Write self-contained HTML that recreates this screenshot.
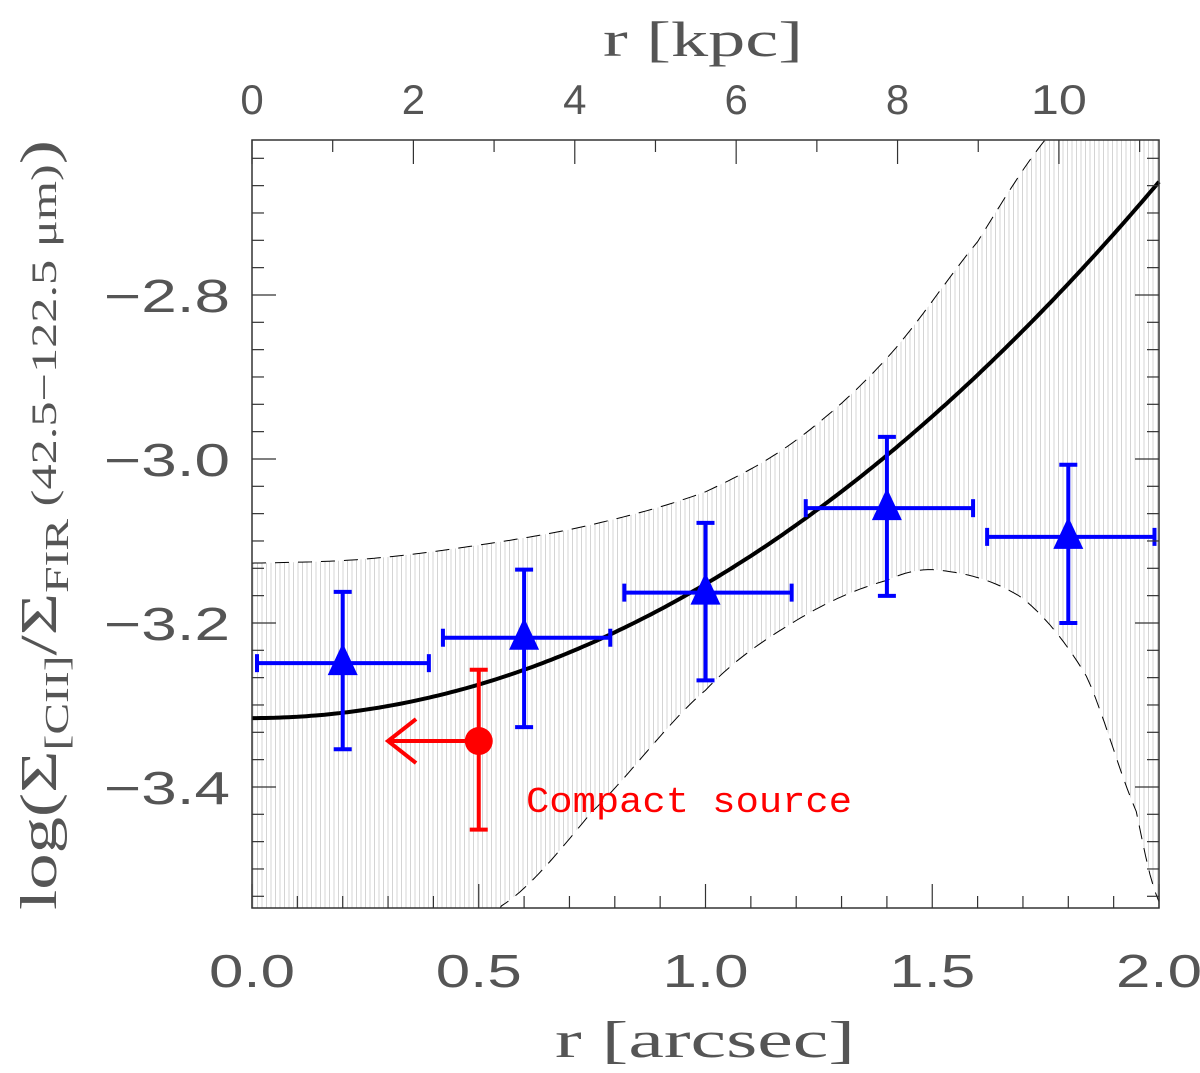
<!DOCTYPE html>
<html><head><meta charset="utf-8"><style>
html,body{margin:0;padding:0;background:#fff;}
svg{display:block;}
text{font-family:"Liberation Sans",sans-serif;fill:#555;}
</style></head><body>
<svg id="chart" width="1200" height="1073" viewBox="0 0 1200 1073" xmlns="http://www.w3.org/2000/svg">
<defs>
<pattern id="stripes" patternUnits="userSpaceOnUse" width="4.5" height="10">
<line x1="1" y1="0" x2="1" y2="10" stroke="#d4d4d4" stroke-width="1"/>
</pattern>
<clipPath id="plotclip"><rect x="252" y="140" width="907" height="768"/></clipPath>
</defs>
<g id="band" clip-path="url(#plotclip)"></g>
<g id="marks"></g>
<g id="axes"></g>
</svg>
<script>
const bandUpperR = [0, 0.25, 0.5, 0.75, 1.0, 1.2, 1.4, 1.6, 1.75, 1.85, 2.0];
const bandUpperV = [-3.127, -3.122, -3.105, -3.08, -3.04, -2.977, -2.877, -2.735, -2.61, -2.53, -2.40];
const bandLowerR = [0, 0.3, 0.5, 0.55, 0.75, 1.0, 1.2, 1.4, 1.52, 1.7, 1.84, 1.95, 2.0];
const bandLowerV = [-3.75, -3.66, -3.57, -3.545, -3.43, -3.282, -3.197, -3.148, -3.136, -3.17, -3.265, -3.43, -3.54];
const fitA = -3.316;
const fitB = 0.1635;
const pointsR = [0.2, 0.6, 1.0, 1.4, 1.8];
const pointsV = [-3.249, -3.218, -3.163, -3.06, -3.095];
const pointsErrHi = [-3.162, -3.135, -3.078, -2.973, -3.007];
const pointsErrLo = [-3.354, -3.327, -3.27, -3.167, -3.20];
const pointsXLo = [0.0, 0.41, 0.81, 1.21, 1.61];
const pointsXHi = [0.39, 0.79, 1.19, 1.59, 1.99];
const compactR = [0.5];
const compactV = [-3.344];
const compactErrHi = [-3.257];
const compactErrLo = [-3.452];
const compactArrowTo = [0.3];
const xTicks = [0.0, 0.5, 1.0, 1.5, 2.0];
const xTickLabels = ["0.0", "0.5", "1.0", "1.5", "2.0"];
const kpcTicks = [0, 2, 4, 6, 8, 10];
const kpcTickLabels = ["0", "2", "4", "6", "8", "10"];
const yTicks = [-2.8, -3.0, -3.2, -3.4];
const yTickLabels = ["\u22122.8", "\u22123.0", "\u22123.2", "\u22123.4"];

const L = 252, R = 1159, T = 140, B = 908;
const xMin = 0, xMax = 2.0, yTop = -2.6110, yBot = -3.5476;
const kpcPerArcsec = 5.62;
function X(r) { return L + (r - xMin) / (xMax - xMin) * (R - L); }
function Y(v) { return T + (yTop - v) / (yTop - yBot) * (B - T); }
function XK(k) { return X(k / kpcPerArcsec); }
const NS = "http://www.w3.org/2000/svg";
function mk(tag, attrs, parent) {
  const e = document.createElementNS(NS, tag);
  for (const k in attrs) e.setAttribute(k, attrs[k]);
  parent.appendChild(e);
  return e;
}
function interp(rs, vs, r) {
  for (let i = 0; i < rs.length - 1; i++) {
    if (r >= rs[i] && r <= rs[i + 1]) {
      const t = (r - rs[i]) / (rs[i + 1] - rs[i]);
      const p0 = vs[Math.max(i - 1, 0)], p1 = vs[i], p2 = vs[i + 1], p3 = vs[Math.min(i + 2, vs.length - 1)];
      return 0.5 * ((2 * p1) + (-p0 + p2) * t + (2 * p0 - 5 * p1 + 4 * p2 - p3) * t * t + (-p0 + 3 * p1 - 3 * p2 + p3) * t * t * t);
    }
  }
  return vs[vs.length - 1];
}
const band = document.getElementById('band');
const marks = document.getElementById('marks');
const axes = document.getElementById('axes');

let up = [], lo = [];
for (let i = 0; i <= 200; i++) {
  const r = i / 100;
  up.push(X(r).toFixed(1) + ',' + Y(interp(bandUpperR, bandUpperV, r)).toFixed(1));
  lo.push(X(r).toFixed(1) + ',' + Y(interp(bandLowerR, bandLowerV, r)).toFixed(1));
}
const fill = mk('polygon', { points: up.concat(lo.slice().reverse()).join(' '), fill: 'url(#stripes)', stroke: 'none' }, band);


const upL = mk('polyline', { points: up.join(' '), fill: 'none', stroke: '#000', 'stroke-width': 1, 'stroke-dasharray': '14,9' }, band);


const loL = mk('polyline', { points: lo.join(' '), fill: 'none', stroke: '#000', 'stroke-width': 1, 'stroke-dasharray': '14,9' }, band);



let fp = [];
for (let i = 0; i <= 200; i++) { const r = i / 100; fp.push(X(r).toFixed(1) + ',' + Y(fitA + fitB * r * r).toFixed(1)); }
const fit = mk('polyline', { points: fp.join(' '), fill: 'none', stroke: '#000', 'stroke-width': 4 }, marks);



pointsR.forEach((r, i) => {
  const g = mk('g', { stroke: '#0000ff', 'stroke-width': 4, fill: '#0000ff' }, marks);
  
  
  const x = X(r), y = Y(pointsV[i]), yh = Y(pointsErrHi[i]), yl = Y(pointsErrLo[i]);
  const x0 = X(pointsXLo[i]) + 5, x1 = X(pointsXHi[i]);
  mk('line', { x1: x, y1: yh, x2: x, y2: yl }, g);
  mk('line', { x1: x - 9, y1: yh, x2: x + 9, y2: yh }, g);
  mk('line', { x1: x - 9, y1: yl, x2: x + 9, y2: yl }, g);
  mk('line', { x1: x0, y1: y, x2: x1, y2: y }, g);
  mk('line', { x1: x0, y1: y - 9, x2: x0, y2: y + 9 }, g);
  mk('line', { x1: x1, y1: y - 9, x2: x1, y2: y + 9 }, g);
  mk('polygon', { points: `${x},${y - 20} ${x - 15},${y + 12} ${x + 15},${y + 12}`, stroke: 'none' }, g);
});

compactR.forEach((r, i) => {
  const g = mk('g', { stroke: '#ff0000', 'stroke-width': 4, fill: '#ff0000' }, marks);
  
  
  const x = X(r), y = Y(compactV[i]), yh = Y(compactErrHi[i]), yl = Y(compactErrLo[i]), xa = X(compactArrowTo[i]);
  mk('line', { x1: x, y1: yh, x2: x, y2: yl }, g);
  mk('line', { x1: x - 9, y1: yh, x2: x + 9, y2: yh }, g);
  mk('line', { x1: x - 9, y1: yl, x2: x + 9, y2: yl }, g);
  mk('line', { x1: x, y1: y, x2: xa, y2: y }, g);
  mk('polyline', { points: `${xa + 28},${y - 22} ${xa},${y} ${xa + 28},${y + 22}`, fill: 'none' }, g);
  mk('circle', { cx: x, cy: y, r: 14, stroke: 'none' }, g);
});
const cs = mk('text', { x: 526, y: 812, 'font-size': 36, textLength: 326, lengthAdjust: 'spacingAndGlyphs', style: 'fill:#ff0000;font-family:"Liberation Mono",monospace' }, marks);
cs.textContent = 'Compact source';



const fr = mk('rect', { x: L, y: T, width: R - L, height: B - T, fill: 'none', stroke: '#333', 'stroke-width': 1.5 }, axes);


for (let i = 0; i <= 20; i++) {
  const r = i / 10, x = X(r), len = (i % 5 === 0) ? 24 : 12;
  mk('line', { x1: x, y1: B, x2: x, y2: B - len, stroke: '#333', 'stroke-width': 1.2 }, axes);
}
xTicks.forEach((r, i) => {
  const t = mk('text', { x: X(r), y: 987, 'font-size': 46, 'text-anchor': 'middle', textLength: 86, lengthAdjust: 'spacingAndGlyphs' }, axes);
  t.textContent = xTickLabels[i];
  
  
});
for (let k = 0; k <= 11; k++) {
  const x = XK(k), len = (k % 2 === 0) ? 24 : 12;
  mk('line', { x1: x, y1: T, x2: x, y2: T + len, stroke: '#333', 'stroke-width': 1.2 }, axes);
}
kpcTicks.forEach((k, i) => {
  const t = mk('text', { x: XK(k), y: 114, 'font-size': 42, 'text-anchor': 'middle' }, axes);
  if (kpcTickLabels[i].length > 1) { t.setAttribute('textLength', 56); t.setAttribute('lengthAdjust', 'spacingAndGlyphs'); }
  t.textContent = kpcTickLabels[i];
  
  
});
for (let j = -3.6; j <= -2.6; j += 0.2 / 6) {
  const v = Math.round(j * 3000) / 3000; const y = Y(v);
  if (y < T || y > B) continue;
  const major = Math.abs(Math.round(v * 5) - v * 5) < 1e-6;
  const len = major ? 24 : 12;
  mk('line', { x1: L, y1: y, x2: L + len, y2: y, stroke: '#333', 'stroke-width': 1.2 }, axes);
  mk('line', { x1: R, y1: y, x2: R - len, y2: y, stroke: '#333', 'stroke-width': 1.2 }, axes);
}
yTicks.forEach((v, i) => {
  const t = mk('text', { x: 230, y: Y(v) + 17, 'font-size': 46, 'text-anchor': 'end', textLength: 126, lengthAdjust: 'spacingAndGlyphs' }, axes);
  t.textContent = yTickLabels[i];
  
  
});
</script>
<svg style="position:absolute;left:0;top:0" width="1200" height="1073">
<text x="705" y="1057" font-size="52" text-anchor="middle" textLength="300" lengthAdjust="spacingAndGlyphs" style="font-family:'Liberation Serif',serif;fill:#555">r [arcsec]</text>
<text x="703" y="56" font-size="50" text-anchor="middle" textLength="200" lengthAdjust="spacingAndGlyphs" style="font-family:'Liberation Serif',serif;fill:#555">r [kpc]</text>
<text transform="translate(56,525) rotate(-90)" font-size="52" text-anchor="middle" textLength="770" lengthAdjust="spacingAndGlyphs" style="font-family:'Liberation Serif',serif;fill:#555">log(Σ<tspan font-size="34" dy="12">[CII]</tspan><tspan dy="-12">/Σ</tspan><tspan font-size="34" dy="12">FIR</tspan><tspan font-size="36" dy="-12"> (42.5−122.5 μm)</tspan>)</text>
</svg>
</body></html>
